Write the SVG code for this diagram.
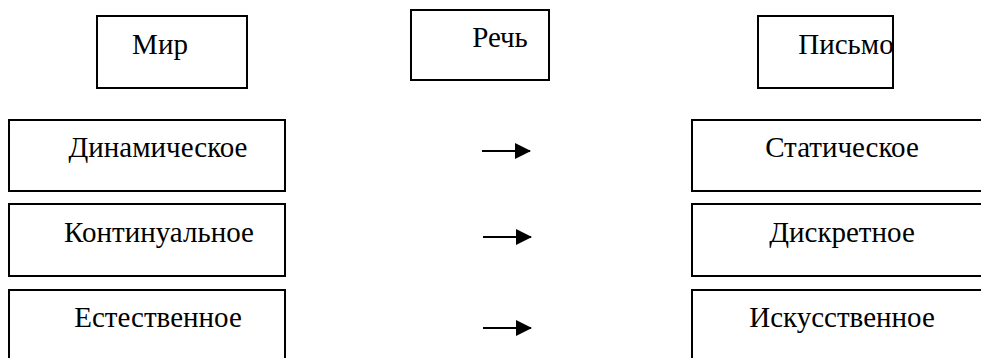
<svg xmlns="http://www.w3.org/2000/svg" width="981" height="358" viewBox="0 0 981 358">
  <style>
    .box { fill: #ffffff; stroke: #000000; stroke-width: 2; }
    .label { font-family: "Times New Roman", "Liberation Serif", "DejaVu Serif", serif; font-size: 29px; fill: #000000; text-anchor: middle; }
    .link { stroke: #000000; stroke-width: 2; fill: none; }
  </style>
  <defs>
    <marker id="arrowhead" markerUnits="userSpaceOnUse" markerWidth="16" markerHeight="16" refX="15" refY="8" orient="auto">
      <path d="M0,0 L16,8 L0,16 Z" fill="#000000"/>
    </marker>
  </defs>
  <rect width="981" height="358" fill="#ffffff"/>

  <!-- header row -->
  <g id="node-mir">
    <rect class="box" x="97" y="16" width="150" height="72"/>
    <text class="label" x="160" y="54">Мир</text>
  </g>
  <g id="node-rech">
    <rect class="box" x="411" y="10" width="138" height="70"/>
    <text class="label" x="500" y="47">Речь</text>
  </g>
  <g id="node-pismo">
    <rect class="box" x="758" y="16" width="135" height="72"/>
    <text class="label" x="846" y="54">Письмо</text>
  </g>

  <!-- left column -->
  <g id="node-dinamicheskoe">
    <rect class="box" x="9" y="120" width="276" height="71"/>
    <text class="label" x="158" y="157">Динамическое</text>
  </g>
  <g id="node-kontinualnoe">
    <rect class="box" x="9" y="204" width="276" height="72"/>
    <text class="label" x="159" y="242">Континуальное</text>
  </g>
  <g id="node-estestvennoe">
    <rect class="box" x="9" y="290" width="276" height="80"/>
    <text class="label" x="158" y="327">Естественное</text>
  </g>

  <!-- right column -->
  <g id="node-staticheskoe">
    <rect class="box" x="692" y="120" width="300" height="71"/>
    <text class="label" x="842" y="157">Статическое</text>
  </g>
  <g id="node-diskretnoe">
    <rect class="box" x="692" y="204" width="300" height="72"/>
    <text class="label" x="842" y="242">Дискретное</text>
  </g>
  <g id="node-iskusstvennoe">
    <rect class="box" x="692" y="290" width="300" height="80"/>
    <text class="label" x="842" y="327">Искусственное</text>
  </g>

  <!-- arrows -->
  <g id="connectors">
    <line class="link" x1="482" y1="151" x2="530" y2="151" marker-end="url(#arrowhead)"/>
    <line class="link" x1="483" y1="237" x2="531" y2="237" marker-end="url(#arrowhead)"/>
    <line class="link" x1="483" y1="328" x2="531" y2="328" marker-end="url(#arrowhead)"/>
  </g>
</svg>
